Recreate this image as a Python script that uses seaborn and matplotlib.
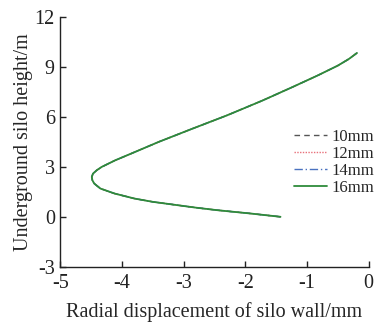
import matplotlib
matplotlib.use("Agg")
import matplotlib.pyplot as plt
import seaborn as sns
import pandas as pd

height = [0.0, 0.2, 0.4, 0.55, 0.7, 0.9, 1.1, 1.4, 1.7, 2.0, 2.2, 2.4, 2.6, 2.8, 3.0, 3.4, 3.9, 4.5, 5.3, 6.1, 7.0, 7.8, 8.5, 9.1, 9.5, 9.86]
disp_10 = [-1.43, -1.92, -2.46, -2.8, -3.1, -3.5, -3.8, -4.12, -4.35, -4.45, -4.48, -4.49, -4.47, -4.41, -4.33, -4.11, -3.79, -3.41, -2.86, -2.3, -1.72, -1.24, -0.83, -0.5, -0.32, -0.19]
disp_12 = [-1.43, -1.92, -2.46, -2.8, -3.1, -3.5, -3.8, -4.12, -4.35, -4.45, -4.48, -4.49, -4.47, -4.41, -4.33, -4.11, -3.79, -3.41, -2.86, -2.3, -1.72, -1.24, -0.83, -0.5, -0.32, -0.19]
disp_14 = [-1.43, -1.92, -2.46, -2.8, -3.1, -3.5, -3.8, -4.12, -4.35, -4.45, -4.48, -4.49, -4.47, -4.41, -4.33, -4.11, -3.79, -3.41, -2.86, -2.3, -1.72, -1.24, -0.83, -0.5, -0.32, -0.19]
disp_16 = [-1.43, -1.92, -2.46, -2.8, -3.1, -3.5, -3.8, -4.12, -4.35, -4.45, -4.48, -4.49, -4.47, -4.41, -4.33, -4.11, -3.79, -3.41, -2.86, -2.3, -1.72, -1.24, -0.83, -0.5, -0.32, -0.19]
labels = ["10mm", "12mm", "14mm", "16mm"]
x_ticks = [-5, -4, -3, -2, -1, 0]
y_ticks = [-3, 0, 3, 6, 9, 12]

sns.set_style("ticks")
plt.rcParams["font.family"] = ["Liberation Serif", "DejaVu Serif"]
plt.rcParams["axes.unicode_minus"] = False
plt.rcParams["xtick.direction"] = "in"
plt.rcParams["ytick.direction"] = "in"

fig = plt.figure(figsize=(3.77, 3.28), dpi=100)
ax = fig.add_axes([0.16, 0.187, 0.818, 0.76])

styles = [
    dict(color="#555555", linestyle=(0, (4, 3)), linewidth=1.0),
    dict(color="#e8707a", linestyle=(0, (1, 1)), linewidth=1.0),
    dict(color="#4a72c0", linestyle=(0, (6, 2, 1, 2)), linewidth=1.0),
    dict(color="#2e8b3a", linestyle="-", linewidth=1.3),
]
series = [disp_10, disp_12, disp_14, disp_16]
for lab, d, st in zip(labels, series, styles):
    df = pd.DataFrame({"disp": d, "h": height})
    sns.lineplot(data=df, x="disp", y="h", sort=False, estimator=None, ax=ax, label=lab, **st)

ax.set_xlim(-5, 0)
ax.set_ylim(-3, 12)
ax.set_xticks(x_ticks)
ax.set_yticks(y_ticks)
ax.tick_params(labelsize=14.5, length=4, width=1, colors="#222222")
ax.tick_params(axis="x", pad=5)
ax.tick_params(axis="y", pad=4)
for s in ["top", "right"]:
    ax.spines[s].set_visible(False)
for s in ["left", "bottom"]:
    ax.spines[s].set_linewidth(1.0)
    ax.spines[s].set_color("#222222")
ax.set_xlabel("Radial displacement of silo wall/mm", fontsize=14.5, labelpad=7)
ax.set_ylabel("Underground silo height/m", fontsize=14.5, labelpad=1)

ax.legend(loc="center left", bbox_to_anchor=(0.762, 0.505), bbox_transform=fig.transFigure,
          frameon=False, fontsize=12, handlelength=2.0, handletextpad=0.25,
          labelspacing=0.05, borderaxespad=0)

fig.savefig("out.png", dpi=100)
